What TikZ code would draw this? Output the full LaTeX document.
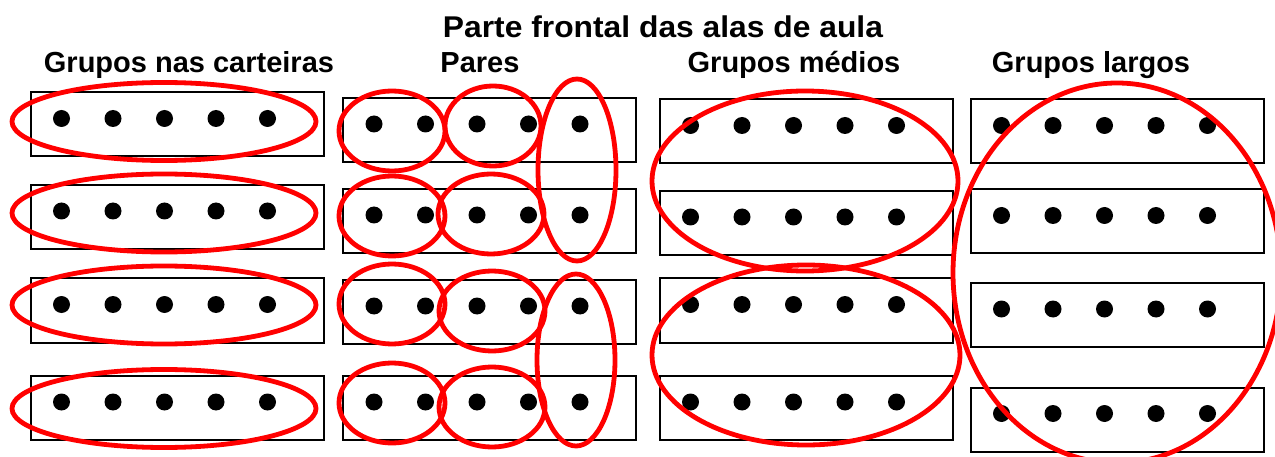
\documentclass[tikz,border=0pt]{standalone}
\usepackage{fontspec}
\setmainfont{Liberation Sans}
\usetikzlibrary{shapes}
\tikzset{carteira/.style={draw, line width=2pt, minimum width=293pt, minimum height=64pt, inner sep=0pt, outer sep=0pt}}
\tikzset{aluno/.style={circle, fill, inner sep=0pt, minimum size=17pt}}
\tikzset{grupo/.style={draw=red, line width=4.8pt}}
\tikzset{rotulo/.style={font=\fontsize{29}{33}\selectfont\bfseries, anchor=base, inner sep=0pt}}
\begin{document}
\begin{tikzpicture}[x=1pt,y=-1pt]
    \useasboundingbox (0,0) rectangle (1275,457);
    \node[rotulo, font=\fontsize{30}{34}\selectfont\bfseries, xscale=1.06, transform shape] (frente) at (663,38) {Parte frontal das alas de aula};
    \foreach \x/\lab/\tx in {
      189/carteiras/Grupos nas carteiras,
      480/pares/Pares,
      794/medios/Grupos médios,
      1091/largos/Grupos largos%
    } {
      \node[rotulo] (\lab) at (\x,73) {\tx};
    }
    \foreach \lab/\x/\y in {
      11/177/124.5, 12/177/217, 13/177/310.5, 14/177/408,
      21/489.5/130, 22/489.5/221, 23/489.5/312, 24/489.5/408,
      31/806/131.5, 32/806/223, 33/806/310.5, 34/806/408,
      41/1117/131.5, 42/1117/221.5, 43/1117/315, 44/1117/419.5%
    } {
      \node[carteira] (b\lab) at (\x,\y) {};
      \foreach \k in {0,...,4}
        \node[aluno] (b\lab-\k) at ([xshift={31pt+51.5pt*\k}, yshift=6pt]b\lab.west) {};
    }
    \foreach \x/\y/\rx/\ry in {
      164/121.5/152pt/39pt, 164/213/152pt/39pt, 164/305/152pt/39pt, 164/408.5/152pt/39pt,
      392/131/53pt/40pt, 493/126/48pt/40pt, 392/216/53pt/40pt, 491/214/53pt/40pt,
      392/304/53pt/40pt, 492/311/53pt/40pt, 392/403/53pt/40pt, 492/407/53pt/40pt,
      577/170/39pt/91pt, 576/360/39pt/86pt,
      805/181/153pt/90pt, 806/355/154pt/90pt,
      1117/273/164pt/190pt%
    } {
      \draw[grupo] (\x,\y) ellipse [x radius=\rx, y radius=\ry];
    }
\end{tikzpicture}
\end{document}
